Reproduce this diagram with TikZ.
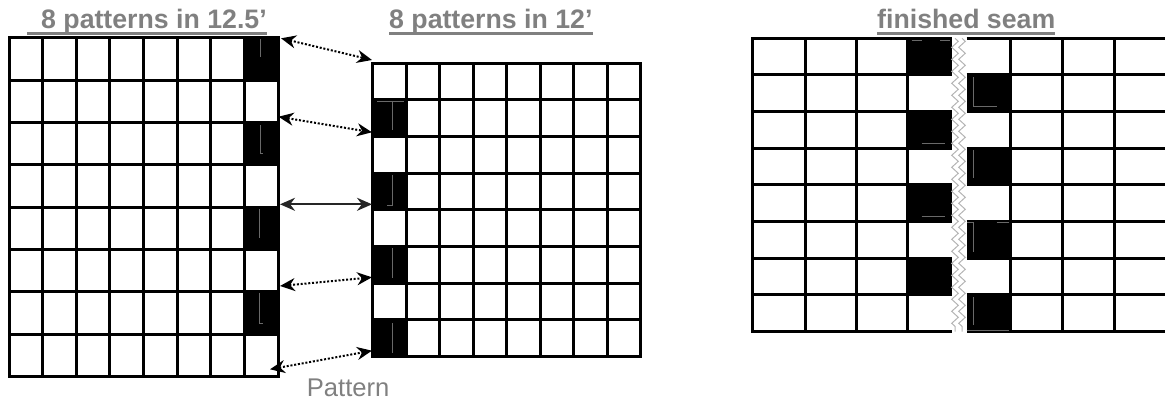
\documentclass[tikz,border=0pt]{standalone}
\usepackage{fontspec}
\setmainfont{Liberation Sans}
\usetikzlibrary{arrows.meta,decorations.pathmorphing}
\definecolor{headgray}{RGB}{128,128,128}
\definecolor{seamgray}{RGB}{180,180,180}
\definecolor{flawgray}{RGB}{105,105,105}

\begin{document}
\begin{tikzpicture}[x=1pt,y=-1pt,
  grid/.style={line width=3pt,draw=black},
  flaw/.style={draw=flawgray,line width=0.8pt},
  seam/.style={draw=seamgray,line width=1pt,decorate,decoration={zigzag,segment length=12pt,amplitude=3.3pt}},
  head/.style={anchor=base west,inner sep=0pt,text=headgray,font=\bfseries\fontsize{26.7}{30}\selectfont},
  uline/.style={draw=headgray,line width=3pt},
  link/.style={{Stealth[length=15pt,width=13pt]}-{Stealth[length=15pt,width=13pt]},line width=2pt,dash pattern=on 2pt off 1.8pt},
  solidlink/.style={{Stealth[length=15pt,width=13pt]}-{Stealth[length=15pt,width=13pt]},line width=2pt,draw=black!85}]
\useasboundingbox (0,0) rectangle (1165,400);

% titles
\node[head] (t1) at (41,28.3) {8 patterns in 12.5’};
\node[head] (t2) at (389,28.3) {8 patterns in 12’};
\node[head] (t3) at (877,28.3) {finished seam};
\draw[uline] ([xshift=-14pt,yshift=-5pt]t1.base west) -- ([yshift=-5pt]t1.base east);
\draw[uline] ([yshift=-5pt]t2.base west) -- ([yshift=-5pt]t2.base east);
\draw[uline] ([yshift=-5pt]t3.base west) -- ([yshift=-5pt]t3.base east);

% 12.5' panel
\foreach \r in {0,2,4,6} \fill (244.6,37.7+42.33*\r) rectangle ++(33.7,42.33);
\draw[grid] (9,37.7) rectangle (278.3,376.3);
\foreach \i in {1,...,7} \draw[grid] (9+33.66*\i,37.7) -- ++(0,338.6);
\foreach \j in {1,...,7} \draw[grid] (9,37.7+42.33*\j) -- ++(269.3,0);
\draw[flaw] (260,39) -- (260,57);
\draw[flaw] (260,125) -- (260,153) -- (263,153);
\draw[flaw] (259.5,209) -- (259.5,238);
\draw[flaw] (259.5,293) -- (259.5,323) -- (263,323);

% 12' panel
\foreach \r in {1,3,5,7} \fill (372.7,63.3+36.67*\r) rectangle ++(33.5,36.67);
\draw[grid] (372.7,63.3) rectangle (640.7,356.7);
\foreach \i in {1,...,7} \draw[grid] (372.7+33.5*\i,63.3) -- ++(0,293.4);
\foreach \j in {1,...,7} \draw[grid] (372.7,63.3+36.67*\j) -- ++(268,0);
\draw[flaw] (377,101.5) -- (404,101.5) (392.7,101.5) -- (392.7,130);
\draw[flaw] (392.7,175) -- (392.7,205) -- (386.7,205);
\draw[flaw] (392.7,248) -- (392.7,278);
\draw[flaw] (392.7,323) -- (392.7,353);

% seam panel
\foreach \r in {0,2,4,6} \fill (907.7,38.3+36.67*\r) rectangle ++(44,36.67);
\foreach \r in {1,3,5,7} \fill (966.7,38.3+36.67*\r) rectangle ++(44,36.67);
\draw[grid] (951.7,38.3) -- (752.7,38.3) -- (752.7,331.7) -- (951.7,331.7);
\foreach \x in {805,856,907.7} \draw[grid] (\x,38.3) -- ++(0,293.4);
\foreach \j in {1,...,7} \draw[grid] (752.7,38.3+36.67*\j) -- ++(199,0);
\draw[grid] (966.7,38.3) -- (1170,38.3);
\draw[grid] (966.7,331.7) -- (1170,331.7);
\foreach \x in {1010.7,1062.7,1114} \draw[grid] (\x,38.3) -- ++(0,293.4);
\foreach \j in {1,...,7} \draw[grid] (966.7,38.3+36.67*\j) -- ++(203.3,0);
\draw[flaw] (911.7,40.5) -- (921.7,40.5) (940,40.5) -- (950,40.5);
\draw[flaw] (921.7,143.3) -- (945,143.3);
\draw[flaw] (921.7,216) -- (945,216);
\draw[flaw] (973.3,77) -- (973.3,106) -- (996.7,106);
\draw[flaw] (973.3,150) -- (973.3,178.3);
\draw[flaw] (967,222) -- (973.3,222) (996.7,222) -- (1009,222) (973.3,222) -- (973.3,251.7);
\draw[flaw] (973.3,297) -- (973.3,325) (967,330) -- (1009,330);
\draw[seam] (955,38.3) -- (955,331.7);
\draw[seam] (962,38.3) -- (962,331.7);

% links between the two panels
\coordinate (l1) at (281,38.3);  \coordinate (r1) at (372,60);
\coordinate (l2) at (278.5,116.7); \coordinate (r2) at (372,132.3);
\coordinate (l3) at (280,204.3); \coordinate (r3) at (372,204.3);
\coordinate (l4) at (280,286);   \coordinate (r4) at (372,277.3);
\coordinate (l5) at (270,369.3); \coordinate (r5) at (372,350.7);
\draw[link] (l1) -- (r1);
\draw[link] (l2) -- (r2);
\draw[solidlink] (l3) -- (r3);
\draw[link] (l4) -- (r4);
\draw[link] (l5) -- (r5);

\node[anchor=base west,inner sep=0pt,text=headgray,font=\fontsize{25.6}{30}\selectfont] (pat) at (306.7,396.7) {Pattern};
\end{tikzpicture}
\end{document}
